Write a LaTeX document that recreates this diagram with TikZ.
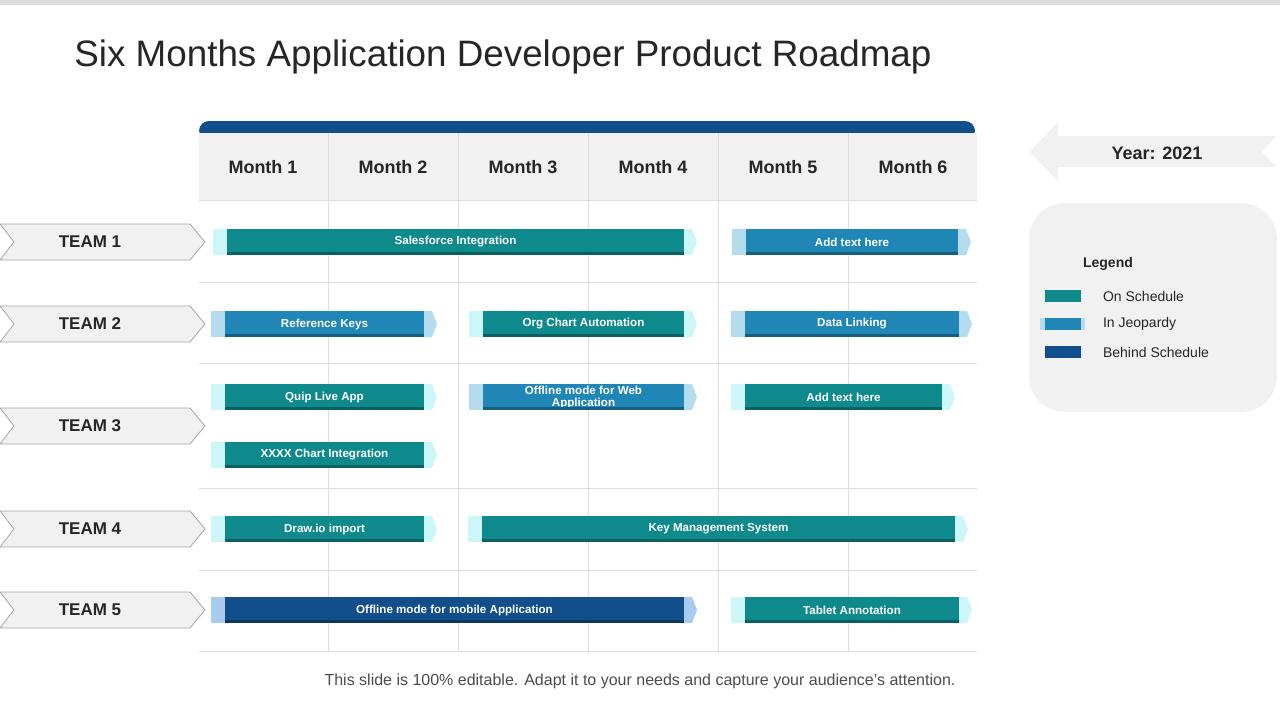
\documentclass[tikz,border=0pt]{standalone}
\usepackage{fontspec}
\setmainfont{Liberation Sans}
\usetikzlibrary{positioning}
\definecolor{ontime}{HTML}{0E8A8C}
\definecolor{ontimelt}{HTML}{CCF6F8}
\definecolor{jeopardy}{HTML}{1F86B5}
\definecolor{jeopardylt}{HTML}{B5DBEF}
\definecolor{behind}{HTML}{124E8C}
\definecolor{behindlt}{HTML}{A8CBF0}
\definecolor{panel}{HTML}{F1F1F1}
\definecolor{gridln}{HTML}{DDDDDD}
\tikzstyle{month} = [font=\fontsize{9}{10}\selectfont\bfseries, text=black!85]
\tikzstyle{team} = [font=\fontsize{8.5}{10}\selectfont\bfseries, text=black!85]
\tikzstyle{bartext} = [font=\fontsize{5.8}{6}\selectfont\bfseries, text=white, align=center, inner sep=0pt, minimum height=13pt]
\tikzstyle{legitem} = [font=\fontsize{7}{8}\selectfont, text=black!85, anchor=west]
% #1 name, #2 start, #3 end, #4 row, #5 colour, #6 text
\newcommand{\taskbar}[6]{
    \fill[#5lt] (#2-14,#4-13) rectangle (#2,#4+13);
    \fill[#5lt] (#3,#4-13) -- (#3+8,#4-13) -- (#3+13,#4) -- (#3+8,#4+13) -- (#3,#4+13) -- cycle;
    \node[bartext, fill=#5, minimum width={(#3-#2)*0.5pt}] (#1) at ({(#2+#3)/2},#4) {#6};
    \fill[#5!70!black] (#2,#4+10) rectangle (#3,#4+13);
}
\newcommand{\teamtag}[3]{
    \filldraw[fill=panel, draw=black!35] (0,#2-18) -- (190,#2-18) -- (205,#2) -- (190,#2+18) -- (0,#2+18) -- (14,#2) -- cycle;
    \node[team] (#1) at (90,#2) {#3};
}

\begin{document}
\begin{tikzpicture}[x=0.5pt, y=-0.5pt]
    \useasboundingbox (0,0) rectangle (1280,720);
    \fill[gridln] (0,0) rectangle (1280,5);

    \node[anchor=base west, font=\fontsize{18.4}{20}\selectfont, text=black!85, inner sep=0pt] (title) at (74,66) {Six Months Application Developer Product Roadmap};

    % grid
    \fill[behind, rounded corners=5pt] (199,121) rectangle (975,140);
    \fill[panel] (199,133) rectangle (977,200);
    \foreach \x in {328,458,588,718,848}
        \draw[gridln] (\x,133) -- (\x,651);
    \foreach \y in {200,282,363,488,570,651}
        \draw[gridln] (199,\y) -- (977,\y);
    \foreach \i/\x in {1/263,2/393,3/523,4/653,5/783,6/913}
        \node[month] (m\i) at (\x,167) {Month \i};

    % teams
    \teamtag{t1}{242}{TEAM 1}
    \teamtag{t2}{324}{TEAM 2}
    \teamtag{t3}{426}{TEAM 3}
    \teamtag{t4}{529}{TEAM 4}
    \teamtag{t5}{610}{TEAM 5}

    % bars
    \taskbar{sales}{227}{684}{242}{ontime}{Salesforce Integration}
    \taskbar{add1}{746}{958}{242}{jeopardy}{Add text here}
    \taskbar{refkeys}{225}{424}{324}{jeopardy}{Reference Keys}
    \taskbar{orgchart}{483}{684}{324}{ontime}{Org Chart Automation}
    \taskbar{datalink}{745}{959}{324}{jeopardy}{Data Linking}
    \taskbar{quip}{225}{424}{397}{ontime}{Quip Live App}
    \taskbar{offweb}{483}{684}{397}{jeopardy}{Offline mode for Web\\Application}
    \taskbar{add2}{745}{942}{397}{ontime}{Add text here}
    \taskbar{xxxx}{225}{424}{455}{ontime}{XXXX Chart Integration}
    \taskbar{drawio}{225}{424}{529}{ontime}{Draw.io import}
    \taskbar{keymgmt}{482}{955}{529}{ontime}{Key Management System}
    \taskbar{offmob}{225}{684}{610}{behind}{Offline mode for mobile Application}
    \taskbar{tablet}{745}{959}{610}{ontime}{Tablet Annotation}

    % year
    \fill[panel] (1030,152) -- (1058,122) -- (1058,136) -- (1276,136) -- (1262,152) -- (1276,167) -- (1058,167) -- (1058,181) -- cycle;
    \node[month] (year) at (1157,153) {Year: 2021};

    % legend
    \fill[panel, rounded corners=18pt] (1029,203) rectangle (1277,412);
    \node[anchor=west, font=\fontsize{7}{8}\selectfont\bfseries, text=black!85] (legend) at (1076,264) {Legend};
    \fill[ontime] (1045,290) rectangle (1081,302);
    \fill[jeopardylt] (1040,318) rectangle (1085,330);
    \fill[jeopardy] (1045,318) rectangle (1081,330);
    \fill[behind] (1045,346) rectangle (1081,358);
    \node[legitem] (lon) at (1096,296) {On Schedule};
    \node[legitem] (ljp) at (1096,324) {In Jeopardy};
    \node[legitem] (lbh) at (1096,352) {Behind Schedule};

    \node[font=\fontsize{8}{9}\selectfont, text=black!70] (foot) at (640,681) {This slide is 100\% editable. Adapt it to your needs and capture your audience's attention.};
\end{tikzpicture}
\end{document}
